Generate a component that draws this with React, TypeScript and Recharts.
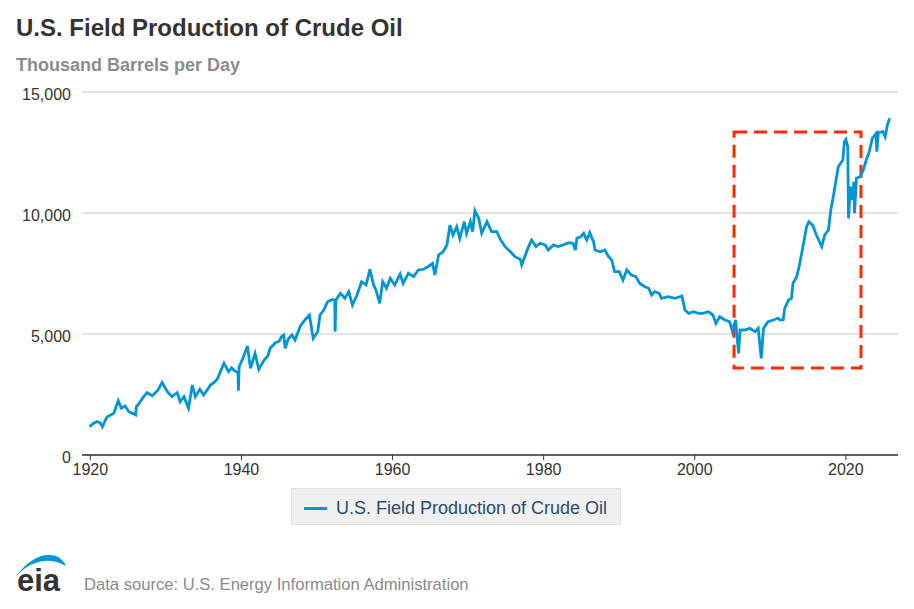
import React from 'react';
import {
    LineChart,
    Line,
    XAxis,
    YAxis,
    CartesianGrid,
    Legend,
    ReferenceArea
} from 'recharts';

// monthly-ish readings (year fraction, thousand b/d)
const years = [
    1919.9, 1920.4, 1920.9, 1921.3, 1921.6, 1922.2, 1922.7, 1923.1, 1923.7, 1924.1,
    1924.6, 1925.1, 1925.6, 1926.0, 1926.1, 1926.5, 1926.9, 1927.5, 1928.2, 1928.9,
    1929.5, 1930.2, 1930.8, 1931.5, 1931.9, 1932.4, 1933.0, 1933.5, 1933.9, 1934.5,
    1935.0, 1935.5, 1935.9, 1936.4, 1936.8, 1937.3, 1937.7, 1938.3, 1938.7, 1939.0,
    1939.55, 1939.6, 1939.7, 1940.2, 1940.8, 1941.2, 1941.8, 1942.3, 1943.0, 1943.5,
    1943.8, 1944.5, 1945.0, 1945.3, 1945.6, 1945.8, 1946.2, 1946.7, 1947.1, 1947.8,
    1948.4, 1949.0, 1949.5, 1950.1, 1950.4, 1950.9, 1951.4, 1952.0, 1952.35, 1952.4,
    1952.5, 1953.1, 1953.7, 1954.2, 1954.7, 1955.3, 1955.9, 1956.5, 1957.0, 1957.5,
    1957.8, 1958.3, 1958.7, 1959.2, 1959.7, 1960.3, 1961.0, 1961.4, 1962.1, 1962.8,
    1963.4, 1964.1, 1964.7, 1965.3, 1965.6, 1966.1, 1966.7, 1967.2, 1967.6, 1968.0,
    1968.5, 1968.9, 1969.2, 1969.5, 1969.8, 1970.3, 1970.6, 1970.9, 1971.4, 1971.8,
    1972.5, 1973.1, 1973.8, 1974.2, 1974.9, 1975.6, 1976.2, 1976.9, 1977.1, 1977.5,
    1978.0, 1978.4, 1979.0, 1979.5, 1980.2, 1980.6, 1981.3, 1981.9, 1982.6, 1983.3,
    1983.9, 1984.2, 1984.4, 1984.9, 1985.3, 1985.7, 1986.1, 1986.6, 1986.8, 1987.5,
    1988.1, 1988.6, 1989.0, 1989.4, 1990.0, 1990.5, 1991.0, 1991.6, 1992.2, 1992.7,
    1993.4, 1993.9, 1994.3, 1994.7, 1995.3, 1995.6, 1996.5, 1997.4, 1998.3, 1998.7,
    1999.2, 1999.8, 2000.5, 2001.1, 2001.8, 2002.4, 2002.8, 2003.3, 2004.0, 2004.6,
    2005.0, 2005.4, 2005.8, 2006.0, 2006.6, 2007.3, 2008.0, 2008.4, 2008.8, 2009.1,
    2009.7, 2010.4, 2011.0, 2011.3, 2011.7, 2011.9, 2012.4, 2012.8, 2013.0, 2013.5,
    2013.9, 2014.4, 2014.8, 2015.1, 2015.6, 2016.1, 2016.8, 2017.2, 2017.7, 2018.0,
    2018.3, 2018.7, 2019.0, 2019.3, 2019.6, 2019.8, 2020.0, 2020.25, 2020.35, 2020.6,
    2020.9, 2021.05, 2021.15, 2021.4, 2021.9, 2022.3, 2022.7, 2023.1, 2023.5, 2024.0,
    2024.1, 2024.3, 2024.9, 2025.2, 2025.5, 2025.8
];

const production = [
    1170, 1300, 1380, 1330, 1170, 1570, 1650, 1720, 2245, 1930,
    2025, 1790, 1720, 1650, 2000, 2150, 2340, 2575, 2450, 2660,
    2990, 2620, 2410, 2575, 2200, 2410, 1930, 2890, 2410, 2715,
    2480, 2700, 2890, 3000, 3130, 3500, 3790, 3445, 3600, 3510,
    3400, 2660, 3650, 4000, 4500, 3580, 4200, 3540, 3925, 4090,
    4410, 4640, 4700, 4890, 4960, 4410, 4800, 4960, 4750, 5330,
    5580, 5785, 4820, 5095, 5785, 5990, 6335, 6430, 6400, 5095,
    6400, 6680, 6475, 6750, 6200, 6610, 7160, 7025, 7670, 7025,
    6820, 6270, 7160, 6890, 7300, 7025, 7480, 7095, 7510, 7370,
    7645, 7675, 7780, 7920, 7440, 8265, 8400, 8680, 9500, 9090,
    9435, 8950, 9300, 9640, 9160, 9640, 9230, 10095, 9780, 9160,
    9640, 9230, 9230, 8950, 8610, 8400, 8195, 8090, 7850, 8195,
    8610, 8885, 8610, 8750, 8680, 8470, 8680, 8610, 8680, 8775,
    8750, 8470, 8955, 9020, 9160, 8885, 9185, 8815, 8470, 8400,
    8470, 8195, 8060, 7575, 7575, 7230, 7645, 7440, 7370, 7095,
    6955, 6890, 6610, 6750, 6680, 6475, 6540, 6475, 6570, 5990,
    5855, 5920, 5855, 5855, 5920, 5785, 5440, 5715, 5580, 5510,
    5095, 5580, 4200, 5165, 5165, 5235, 5095, 5235, 3995, 5235,
    5510, 5580, 5650, 5580, 5580, 6060, 6400, 6475, 7095, 7370,
    7920, 8750, 9435, 9640, 9500, 9090, 8610, 9090, 9300, 10125,
    10610, 11365, 11915, 12055, 12190, 12950, 13045, 12740, 9780, 11090,
    10540, 11295, 9990, 11435, 11500, 11780, 12190, 12535, 13085, 13290,
    12535, 13320, 13360, 13150, 13635, 13915
];

const xTicks = [1920, 1940, 1960, 1980, 2000, 2020];
const yTicks = [0, 5000, 10000, 15000];
const seriesName = 'U.S. Field Production of Crude Oil';

// highlighted window (shale era)
const boxYears = [2005.2, 2022.0];
const boxLevels = [3600, 13350];

const data = years.map((y, i) => ({ year: y, value: production[i] }));

const FONT = '"Liberation Sans", Arial, Helvetica, sans-serif';

const YTick = (props: any) => {
    const { x, y, payload } = props;
    return (
        <text x={x} y={y + 8} textAnchor="end" fontSize={16} fill="#333" fontFamily={FONT}>
            {payload.value.toLocaleString('en-US')}
        </text>
    );
};

const XTick = (props: any) => {
    const { x, y, payload } = props;
    return (
        <text x={x} y={y + 12} textAnchor="middle" fontSize={16} fill="#333" fontFamily={FONT}>
            {payload.value}
        </text>
    );
};

const LegendBox = () => (
    <div
        style={{
            width: 330,
            height: 37,
            boxSizing: 'border-box',
            paddingTop: 4,
            background: '#f0f0f0',
            border: '1px solid #e2e2e2',
            display: 'flex',
            alignItems: 'center',
            fontFamily: FONT,
            fontSize: 18,
            color: '#2b4b6f'
        }}
    >
        <span style={{ display: 'inline-block', width: 23, height: 3, background: '#0096d6', marginLeft: 12, marginRight: 9 }} />
        <span>{seriesName}</span>
    </div>
);

const App = () => {
    return (
        <div style={{ position: 'absolute', left: 0, top: 0, width: 914, height: 609, background: '#fff', fontFamily: FONT }}>
            <div style={{ position: 'absolute', left: 16, top: 14, fontSize: 24, fontWeight: 'bold', color: '#333', whiteSpace: 'nowrap' }}>
                U.S. Field Production of Crude Oil
            </div>
            <div style={{ position: 'absolute', left: 16, top: 55, fontSize: 18, fontWeight: 'bold', color: '#8c8c8c', whiteSpace: 'nowrap' }}>
                Thousand Barrels per Day
            </div>

            <div style={{ position: 'absolute', left: 0, top: 0 }}>
                <LineChart
                    width={914}
                    height={609}
                    data={data}
                    margin={{ top: 92, right: 16, bottom: 124, left: 0 }}
                >
                    <CartesianGrid vertical={false} stroke="#c8c8c8" />
                    <XAxis
                        dataKey="year"
                        type="number"
                        domain={[1918.9, 2026.9]}
                        ticks={xTicks}
                        allowDataOverflow
                        height={30}
                        tickSize={5}
                        tickMargin={3}
                        axisLine={{ stroke: '#333', strokeWidth: 1.5 }}
                        tickLine={{ stroke: '#333' }}
                        tick={<XTick />}
                    />
                    <YAxis
                        type="number"
                        domain={[0, 15000]}
                        ticks={yTicks}
                        width={82}
                        axisLine={false}
                        tickLine={false}
                        tickSize={6}
                        tickMargin={5}
                        tick={<YTick />}
                    />
                    <Line
                        type="linear"
                        dataKey="value"
                        name={seriesName}
                        stroke="#0096d6"
                        strokeWidth={2.8}
                        dot={false}
                        activeDot={false}
                        isAnimationActive={false}
                    />
                    <ReferenceArea
                        x1={boxYears[0]}
                        x2={boxYears[1]}
                        y1={boxLevels[0]}
                        y2={boxLevels[1]}
                        fill="none"
                        fillOpacity={0}
                        stroke="#ff2a00"
                        strokeWidth={3}
                        strokeDasharray="13 7"
                        ifOverflow="visible"
                    />
                    <Legend
                        layout="horizontal"
                        verticalAlign="middle"
                        align="center"
                        content={<LegendBox />}
                        wrapperStyle={{ position: 'absolute', left: 291, top: 488, width: 330, bottom: 'auto' }}
                    />
                </LineChart>
            </div>

            <svg style={{ position: 'absolute', left: 0, top: 540 }} width={100} height={69}>
                <path d="M16 36 Q40 12 66 26 Q63 19 56 16 Q36 10 16 36 Z" fill="#0096d6" />
                <text x={17} y={51} fontSize={31} fontWeight="bold" fill="#333" fontFamily={FONT}>eia</text>
            </svg>
            <div style={{ position: 'absolute', left: 84, top: 575, fontSize: 16.6, color: '#8a8a8a', whiteSpace: 'nowrap' }}>
                Data source: U.S. Energy Information Administration
            </div>
        </div>
    );
};

export default App;
